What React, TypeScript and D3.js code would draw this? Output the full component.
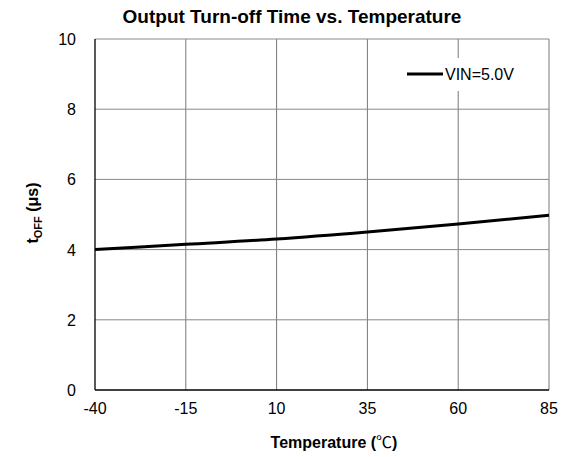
import { useEffect } from 'react'
import * as d3 from 'd3'

const temps = [-40, -15, 10, 35, 60, 85]
const toff = [4.0, 4.15, 4.3, 4.5, 4.73, 4.98]
const yTicks = [0, 2, 4, 6, 8, 10]
const seriesName = 'VIN=5.0V'

const W = 571
const H = 457
const margin = { top: 39, right: 22, bottom: 67, left: 95 }
const font = '"Liberation Sans", Arial, sans-serif'

export default function App() {
  useEffect(() => {
    document.body.style.margin = '0'
  }, [])

  const x = d3.scaleLinear().domain([-40, 85]).range([margin.left, W - margin.right])
  const y = d3.scaleLinear().domain([0, 10]).range([H - margin.bottom, margin.top])

  const line = d3.line<number>()
    .x((_, i) => x(temps[i]))
    .y(d => y(d))
    .curve(d3.curveMonotoneX)

  const x0 = x(-40), x1 = x(85), y0 = y(0), y1 = y(10)

  return (
    <svg width={W} height={H} style={{ display: 'block', background: '#fff' }} fontFamily={font}>
      <text x={292} y={23} textAnchor="middle" fontSize={19} fontWeight="bold">
        Output Turn-off Time vs. Temperature
      </text>

      {/* grid */}
      {temps.slice(1).map(t => (
        <line key={'gx' + t} x1={x(t)} x2={x(t)} y1={y1} y2={y0} stroke="#777" strokeWidth={1} />
      ))}
      {yTicks.slice(1).map(v => (
        <line key={'gy' + v} x1={x0} x2={x1} y1={y(v)} y2={y(v)} stroke="#888" strokeWidth={1} />
      ))}

      {/* axes */}
      <line x1={x0} x2={x0} y1={y1} y2={y0} stroke="#000" strokeWidth={1.3} />
      <line x1={x0} x2={x1} y1={y0} y2={y0} stroke="#000" strokeWidth={1.3} />

      {/* legend box */}
      <rect x={402} y={58} width={125} height={33} fill="#fff" />
      <line x1={407} x2={443} y1={74} y2={74} stroke="#000" strokeWidth={3} />
      <text x={445} y={80} fontSize={16}>{seriesName}</text>

      <path d={line(toff) ?? ''} fill="none" stroke="#000" strokeWidth={3} />

      {/* tick labels */}
      {temps.map(t => (
        <text key={'tx' + t} x={x(t)} y={414} textAnchor="middle" fontSize={16}>{t}</text>
      ))}
      {yTicks.map(v => (
        <text key={'ty' + v} x={76} y={y(v) + 6} textAnchor="end" fontSize={16}>{v}</text>
      ))}

      <text x={334} y={448} textAnchor="middle" fontSize={16} fontWeight="bold">
        Temperature (<tspan fontWeight="normal" fontFamily='"Noto Sans CJK SC", sans-serif'>℃</tspan>)
      </text>

      <text transform={`translate(38,213) rotate(-90)`} textAnchor="middle" fontSize={16} fontWeight="bold">
        t<tspan fontSize={11} dy={4}>OFF</tspan><tspan dy={-4}> (μs)</tspan>
      </text>
    </svg>
  )
}
